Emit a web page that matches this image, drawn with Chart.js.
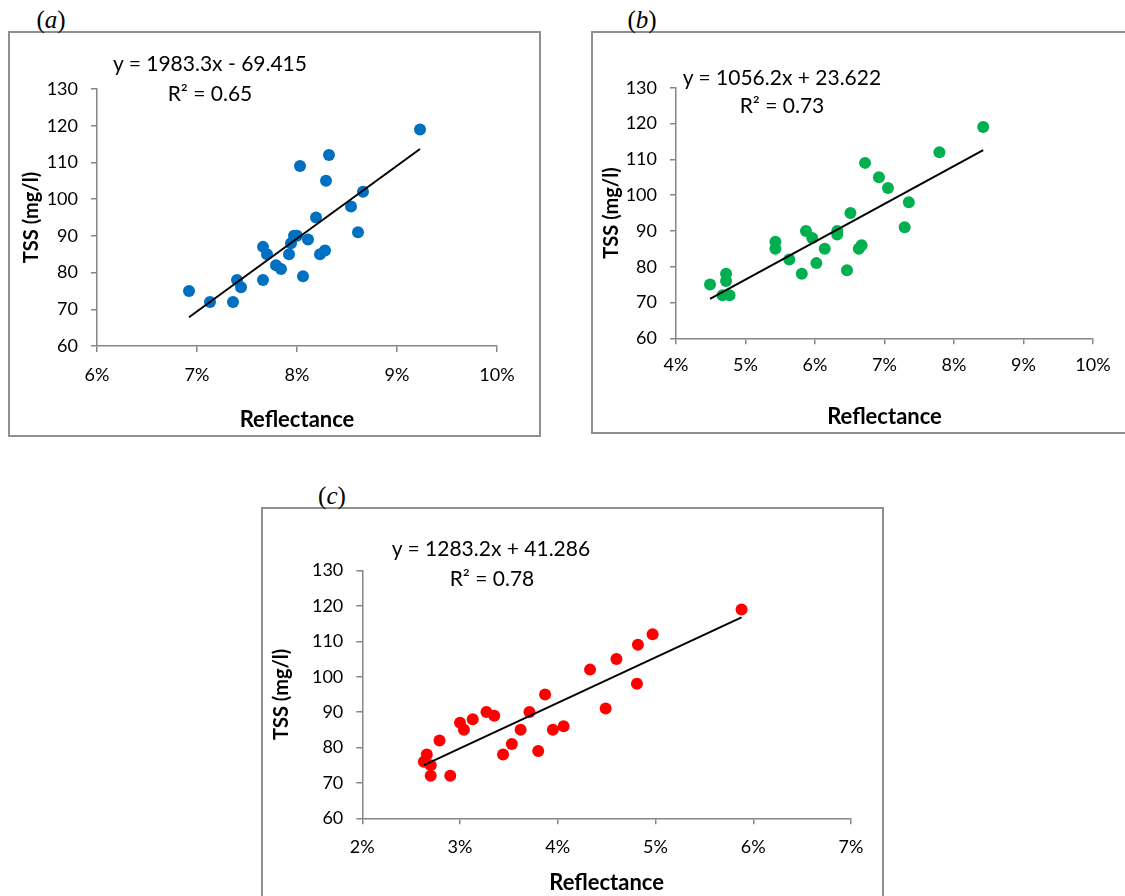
<!DOCTYPE html>
<html><head><meta charset="utf-8">
<script src="https://cdn.jsdelivr.net/npm/chart.js@4.4.1/dist/chart.umd.min.js"></script>
<style>
html,body{margin:0;padding:0;}
body{width:1125px;height:896px;background:#fff;position:relative;overflow:hidden;font-family:Lato,sans-serif;}
.box{position:absolute;border:2px solid #8f8f8f;box-sizing:border-box;}
.wrap{position:absolute;}
.lbl{position:absolute;font-family:'Liberation Serif',serif;font-size:25px;transform:translate(-50%,-50%);white-space:nowrap;color:#000;}
.eq{position:absolute;font-family:Lato,sans-serif;font-size:21px;transform:translate(-50%,-50%);white-space:nowrap;color:#000;}
</style></head><body>

<div class="box" style="left:8px;top:31px;width:533px;height:406px;"></div>
<div class="box" style="left:591px;top:31px;width:600px;height:403px;"></div>
<div class="box" style="left:261px;top:507px;width:623px;height:500px;"></div>

<div class="lbl" style="left:51px;top:20px;">(<i>a</i>)</div>
<div class="lbl" style="left:642px;top:20px;">(<i>b</i>)</div>
<div class="lbl" style="left:332px;top:496px;">(<i>c</i>)</div>

<div class="wrap" style="left:10px;top:33px;width:529px;height:402px;"><canvas id="ca" width="529" height="402"></canvas></div>
<div class="wrap" style="left:593px;top:33px;width:532px;height:399px;"><canvas id="cb" width="532" height="399"></canvas></div>
<div class="wrap" style="left:263px;top:509px;width:618px;height:387px;"><canvas id="cc" width="618" height="387"></canvas></div>

<div class="eq" id="eqa1" style="left:210px;top:62px;"></div>
<div class="eq" id="eqa2" style="left:210px;top:92px;"></div>
<div class="eq" id="eqb1" style="left:782px;top:76px;"></div>
<div class="eq" id="eqb2" style="left:782px;top:104px;"></div>
<div class="eq" id="eqc1" style="left:491px;top:547px;"></div>
<div class="eq" id="eqc2" style="left:492px;top:577px;"></div>

<script>
// ---------- data ----------
// (a) reflectance (%) and TSS (mg/l)
const reflA = [6.92,7.13,7.36,7.40,7.44,7.66,7.66,7.70,7.79,7.84,7.92,7.94,7.97,8.00,8.03,8.06,8.11,8.19,8.23,8.28,8.29,8.32,8.54,8.61,8.66,9.23];
const tssA  = [75,72,72,78,76,78,87,85,82,81,85,88,90,90,109,79,89,95,85,86,105,112,98,91,102,119];
// (b)
const reflB = [4.49,4.72,4.72,4.67,4.77,5.43,5.43,5.63,5.81,5.87,5.96,6.02,6.14,6.32,6.32,6.46,6.51,6.63,6.67,6.72,6.92,7.05,7.29,7.35,7.79,8.42];
const tssB  = [75,78,76,72,72,87,85,82,78,90,88,81,85,90,89,79,95,85,86,109,105,102,91,98,112,119];
// (c)
const reflC = [2.63,2.66,2.70,2.70,2.79,2.90,3.00,3.04,3.13,3.27,3.35,3.44,3.53,3.62,3.71,3.80,3.87,3.95,4.06,4.33,4.49,4.60,4.81,4.82,4.97,5.88];
const tssC  = [76,78,75,72,82,72,87,85,88,90,89,78,81,85,90,79,95,85,86,102,91,105,98,109,112,119];
// trendline coefficients (x as fraction) and R²
const slopes     = [1983.3, 1056.2, 1283.2];
const intercepts = [-69.415, 23.622, 41.286];
const r2         = [0.65, 0.73, 0.78];
// axis tick ranges
const xTicksA = [6, 10];
const xTicksB = [4, 10];
const xTicksC = [2, 7];
const yTicks  = [60, 130];
const colors  = ['#0070C0', '#00B050', '#FF0000'];

function makeChart(id, refl, tss, k, xr, lay) {
  const pts = refl.map((x, i) => ({x: x, y: tss[i]}));
  const xmin = Math.min(...refl), xmax = Math.max(...refl);
  const trend = [xmin, xmax].map(x => ({x: x, y: slopes[k] * x / 100 + intercepts[k]}));
  const tickFont = {family: 'Lato', size: 18};
  new Chart(document.getElementById(id), {
    type: 'scatter',
    data: {datasets: [
      {data: pts, backgroundColor: colors[k], borderColor: colors[k], pointRadius: 6, pointHoverRadius: 6, borderWidth: 0, order: 2},
      {type: 'line', data: trend, borderColor: '#000', borderWidth: 2, pointRadius: 0, fill: false, tension: 0, order: 1}
    ]},
    options: {
      responsive: false, animation: false, devicePixelRatio: 1,
      events: [],
      layout: {padding: {top: lay.top, right: lay.right, left: 0, bottom: 0}},
      plugins: {legend: {display: false}, tooltip: {enabled: false}},
      scales: {
        x: {
          type: 'linear', min: xr[0], max: xr[1],
          ticks: {stepSize: 1, autoSkip: false, maxRotation: 0, color: '#000', font: tickFont, padding: lay.xtp, callback: v => v + '%'},
          grid: {drawOnChartArea: false, drawTicks: true, tickLength: 6, color: '#868686', lineWidth: 1.5},
          border: {color: '#868686', width: 1.5},
          title: {display: true, text: 'Reflectance', color: '#000', font: {family: 'Lato', size: 22, weight: 'bold'}, padding: {top: 0, bottom: lay.xtt}},
          afterFit: s => { s.height = lay.xh; }
        },
        y: {
          type: 'linear', min: yTicks[0], max: yTicks[1],
          ticks: {stepSize: 10, color: '#000', font: tickFont, padding: 13},
          grid: {drawOnChartArea: false, drawTicks: true, tickLength: 6, color: '#868686', lineWidth: 1.5},
          border: {color: '#868686', width: 1.5},
          title: {display: true, text: 'TSS (mg/l)', color: '#000', font: {family: 'Lato', size: 20, weight: 'bold'}, padding: {top: lay.ytt, bottom: 0}},
          afterFit: s => { s.width = lay.yw; }
        }
      }
    }
  });
}

makeChart('ca', reflA, tssA, 0, xTicksA, {top: 56, right: 42, xh: 89, yw: 87, xtp: 12, xtt: 2, ytt: 10});
makeChart('cb', reflB, tssB, 1, xTicksB, {top: 54.7, right: 32, xh: 93.7, yw: 83, xtp: 10, xtt: 2, ytt: 7});
makeChart('cc', reflC, tssC, 2, xTicksC, {top: 61.5, right: 30, xh: 77.7, yw: 99.3, xtp: 12, xtt: 0, ytt: 7});

function eqText(k) {
  const sign = intercepts[k] < 0 ? '-' : '+';
  return 'y = ' + slopes[k] + 'x ' + sign + ' ' + Math.abs(intercepts[k]);
}
['a', 'b', 'c'].forEach((c, k) => {
  document.getElementById('eq' + c + '1').textContent = eqText(k);
  document.getElementById('eq' + c + '2').textContent = 'R\u00B2 = ' + r2[k].toFixed(2);
});
</script>
</body></html>
